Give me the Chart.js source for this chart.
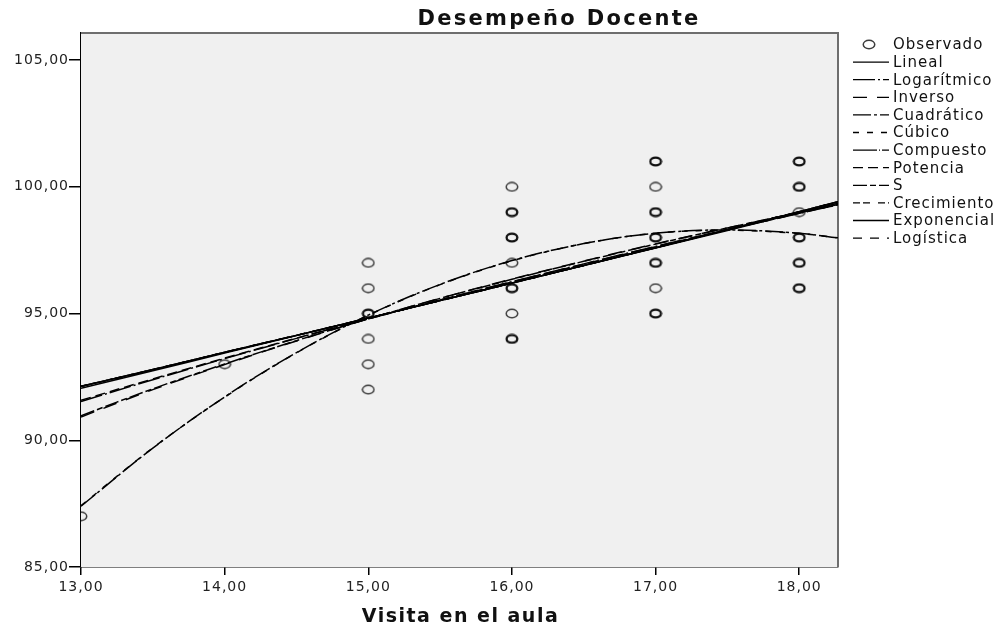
<!DOCTYPE html>
<html><head><meta charset="utf-8">
<script src="https://cdn.jsdelivr.net/npm/chart.js@4.4.1/dist/chart.umd.min.js"></script>
<style>html,body{margin:0;padding:0;background:#fff}#wrap{width:1002px;height:628px;position:relative}</style>
</head><body><div id="wrap"><canvas id="c"></canvas></div>
<script>
// ---- data ----
const chartTitle = 'Desempeño Docente';
const xAxisTitle = 'Visita en el aula';
const xTicks = [13, 14, 15, 16, 17, 18];
const yTicks = [85, 90, 95, 100, 105];

// observed cases (heavy = several coincident cases drawn darker)
const obsX = [13, 14, 15, 15, 15, 15, 15, 15, 16, 16, 16, 16, 16, 16, 16, 17, 17, 17, 17, 17, 17, 17, 18, 18, 18, 18, 18, 18];
const obsY = [87, 93, 97, 96, 95, 94, 93, 92, 100, 99, 98, 97, 96, 95, 94, 101, 100, 99, 98, 97, 96, 95, 101, 100, 99, 98, 97, 96];
const obsHeavy = [0, 0, 0, 0, 1, 0, 0, 0, 0, 1, 1, 0, 1, 0, 1, 1, 0, 1, 1, 1, 0, 1, 1, 1, 0, 1, 1, 1];

// fitted curves, values read at these x positions
const fitX = [13, 13.5, 14, 14.5, 15, 15.5, 16, 16.5, 17, 17.5, 18, 18.27];
const lineal      = [92.05, 92.74, 93.44, 94.13, 94.82, 95.51, 96.21, 96.90, 97.59, 98.28, 98.98, 99.35];
const logaritmico = [91.53, 92.39, 93.22, 94.02, 94.79, 95.54, 96.26, 96.96, 97.65, 98.31, 98.95, 99.29];
const inverso     = [90.92, 92.00, 92.99, 93.92, 94.79, 95.60, 96.36, 97.07, 97.75, 98.38, 98.98, 99.29];
const cuadratico  = [87.40, 89.69, 91.71, 93.46, 94.94, 96.15, 97.09, 97.76, 98.17, 98.30, 98.17, 97.98];
const cubico      = [87.42, 89.70, 91.70, 93.45, 94.93, 96.14, 97.08, 97.76, 98.17, 98.29, 98.16, 97.99];
const compuesto   = [92.13, 92.79, 93.47, 94.14, 94.82, 95.51, 96.20, 96.90, 97.60, 98.31, 99.02, 99.41];
const potencia    = [91.58, 92.42, 93.24, 94.03, 94.79, 95.53, 96.25, 96.95, 97.64, 98.31, 98.96, 99.31];
const sCurva      = [90.97, 92.03, 93.01, 93.93, 94.79, 95.60, 96.35, 97.06, 97.74, 98.38, 98.99, 99.30];
const crecimiento = [92.13, 92.79, 93.47, 94.14, 94.82, 95.51, 96.20, 96.90, 97.60, 98.31, 99.02, 99.41];
const exponencial = [92.13, 92.79, 93.47, 94.14, 94.82, 95.51, 96.20, 96.90, 97.60, 98.31, 99.02, 99.41];
const logistica   = [92.12, 92.78, 93.47, 94.14, 94.82, 95.51, 96.20, 96.90, 97.60, 98.31, 99.01, 99.40];

const seriesNames = ['Observado', 'Lineal', 'Logarítmico', 'Inverso', 'Cuadrático', 'Cúbico',
  'Compuesto', 'Potencia', 'S', 'Crecimiento', 'Exponencial', 'Logística'];

// ---- styles ----
const FONT = '"DejaVu Sans", Verdana, sans-serif';
const dashes = [[], [22,3,2,3], [14,10], [18,3,3,3], [6,8], [24,2,1,2], [10,5], [14,3,6,3], [7,3,7,8], [], [9,8]];
const fitValues = [lineal, logaritmico, inverso, cuadratico, cubico, compuesto, potencia, sCurva, crecimiento, exponencial, logistica];

function ring(w, h, lw, color) {
  const c = document.createElement('canvas');
  c.width = w; c.height = h;
  const g = c.getContext('2d');
  g.strokeStyle = color; g.lineWidth = lw;
  g.beginPath();
  g.ellipse(w / 2, h / 2, w / 2 - lw / 2 - 0.5, h / 2 - lw / 2 - 0.5, 0, 0, Math.PI * 2);
  g.stroke();
  return c;
}
const ringThin = ring(14, 11, 1.5, '#3c3c3c');
const ringHeavy = ring(14, 11, 2.3, '#111');

const datasets = [{
  label: seriesNames[0],
  data: obsX.map((x, i) => ({ x: x, y: obsY[i] })),
  pointStyle: obsHeavy.map(h => h ? ringHeavy : ringThin),
  pointRadius: 6,
  showLine: false,
  clip: 0,
  order: 20
}];
fitValues.forEach((vals, k) => {
  datasets.push({
    label: seriesNames[k + 1],
    data: fitX.map((x, i) => ({ x: x, y: vals[i] })),
    showLine: true,
    borderColor: '#000',
    borderWidth: 1.5,
    borderDash: dashes[k],
    pointRadius: 0,
    tension: 0.35,
    clip: 0,
    order: 1 + k
  });
});

const framePlugin = {
  id: 'frame',
  beforeDraw(chart) {
    chart.ctx.letterSpacing = '1px';
  },
  beforeDatasetsDraw(chart) {
    const { ctx, chartArea: a } = chart;
    ctx.save();
    ctx.fillStyle = '#f0f0f0';
    ctx.fillRect(a.left, a.top, a.right - a.left, a.bottom - a.top);
    ctx.strokeStyle = '#6e6e6e';
    ctx.lineWidth = 2;
    ctx.beginPath();
    ctx.moveTo(a.left, a.top); ctx.lineTo(a.right, a.top); ctx.lineTo(a.right, a.bottom);
    ctx.stroke();
    ctx.restore();
  },
  afterDraw(chart) {
    const { ctx, chartArea: a } = chart;
    ctx.save();
    ctx.fillStyle = '#111';
    // title
    ctx.font = 'bold 21px ' + FONT;
    ctx.letterSpacing = '2.3px';
    ctx.textAlign = 'center';
    ctx.textBaseline = 'alphabetic';
    ctx.fillText(chartTitle, 559, 25);
    // x axis title
    ctx.font = 'bold 19px ' + FONT;
    ctx.letterSpacing = '1.5px';
    ctx.fillText(xAxisTitle, (a.left + a.right) / 2 + 1, 622);
    // legend
    ctx.font = '15px ' + FONT;
    ctx.letterSpacing = '1px';
    ctx.textAlign = 'left';
    ctx.textBaseline = 'middle';
    chart.data.datasets.forEach((ds, i) => {
      const y = 44.5 + i * 17.6;
      if (i === 0) {
        ctx.drawImage(ringThin, 869 - 7, y - 5.5);
      } else {
        ctx.save();
        ctx.strokeStyle = '#000';
        ctx.lineWidth = 1.3;
        ctx.setLineDash(ds.borderDash || []);
        ctx.beginPath();
        ctx.moveTo(853, y); ctx.lineTo(889, y);
        ctx.stroke();
        ctx.restore();
      }
      ctx.fillText(ds.label, 893, y + 1);
    });
    ctx.restore();
  }
};

const fmt = v => Number(v).toFixed(2).replace('.', ',');

new Chart(document.getElementById('c'), {
  type: 'scatter',
  data: { datasets: datasets },
  options: {
    responsive: true,
    maintainAspectRatio: false,
    animation: false,
    layout: { padding: { left: 0, top: 33, right: 164, bottom: 0 } },
    plugins: { legend: { display: false }, title: { display: false }, tooltip: { enabled: false } },
    scales: {
      x: {
        type: 'linear', min: 13, max: 18.27,
        afterBuildTicks: s => { s.ticks = xTicks.map(v => ({ value: v })); },
        afterFit: s => { s.height = 61; },
        grid: { drawOnChartArea: false, tickLength: 8, color: '#000', lineWidth: 1.5 },
        border: { display: true, color: '#000', width: 1.5 },
        ticks: { callback: fmt, color: '#222', font: { family: FONT, size: 14 }, padding: 4, maxRotation: 0, autoSkip: false }
      },
      y: {
        type: 'linear', min: 85, max: 106.07,
        afterBuildTicks: s => { s.ticks = yTicks.map(v => ({ value: v })); },
        afterFit: s => { s.width = 81; },
        grid: { drawOnChartArea: false, tickLength: 12, color: '#000', lineWidth: 1.5 },
        border: { display: true, color: '#000', width: 1.5 },
        ticks: { callback: fmt, color: '#222', font: { family: FONT, size: 14 }, padding: 0, autoSkip: false }
      }
    }
  },
  plugins: [framePlugin]
});
</script>
</body></html>
